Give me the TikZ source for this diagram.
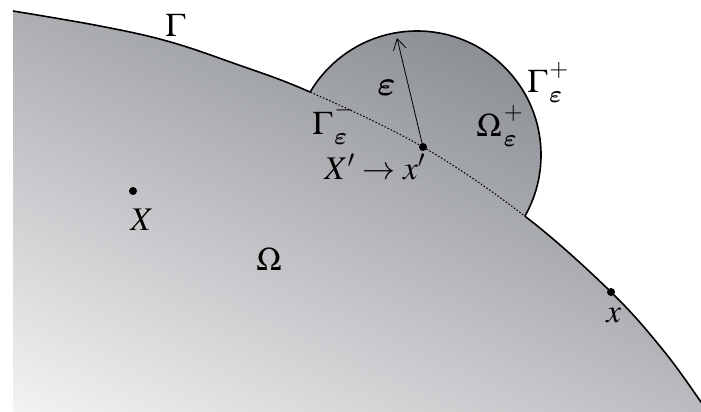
\documentclass[tikz,border=0pt]{standalone}
\usepackage{mathptmx}
\usetikzlibrary{arrows.meta}
\DeclareSymbolFont{cmlet}{OML}{cmm}{b}{it}
\DeclareMathSymbol{\cmeps}{\mathord}{cmlet}{"22}
\definecolor{dgray}{RGB}{101,105,112}
\newcommand{\scr}[3]{\kern1pt\rlap{\raisebox{#3}{$\scriptstyle #1$}}\raisebox{-5pt}{$\scriptstyle #2$}}
\tikzset{
  bnd/.style={line width=0.8pt},
  dotline/.style={line width=0.5pt, dash pattern=on 0.8pt off 0.9pt},
  dotnode/.style={circle, fill=black, inner sep=0pt, minimum size=4pt},
  lbl/.style={anchor=base west, inner sep=0pt, font=\fontsize{16.5}{20}\selectfont},
  radarrow/.style={line width=0.4pt, -{Straight Barb[length=5.5pt,width=6.5pt,line width=0.4pt]}},
  fillshade/.style={top color=dgray, bottom color=white, shading angle=-25}
}
\def\bndcurve{plot[smooth, tension=0.6] coordinates {(13,11) (100,26) (167,41) (233,63) (310,92) (423,147) (526,217) (611,292) (663,350) (701,402) (716,425)}}
\begin{document}
\begin{tikzpicture}[x=0.5pt, y=-0.5pt]
\useasboundingbox (0,0) rectangle (701,412);
% shaded domain
\begin{scope}
  \clip \bndcurve -- (716,440) -- (13,440) -- cycle;
  \shade[fillshade] (-37,-188) rectangle (751,600);
\end{scope}
% shaded bump
\begin{scope}
  \clip (417,155) circle (124);
  \shade[fillshade] (-37,-188) rectangle (751,600);
\end{scope}
% boundary outside the bump
\begin{scope}[even odd rule]
  \clip (-50,-50) rectangle (800,500) (417,155) circle (124);
  \draw[bnd] \bndcurve;
\end{scope}
% arc of the bump outside the domain
\begin{scope}[even odd rule]
  \clip (-50,-50) rectangle (800,500) \bndcurve -- (716,440) -- (13,440) -- cycle;
  \draw[bnd] (417,155) circle (124);
\end{scope}
% dotted boundary inside the bump
\begin{scope}
  \clip (417,155) circle (124);
  \draw[dotline] \bndcurve;
\end{scope}
% points
\node[dotnode] (X) at (133,191) {};
\node[dotnode] (xp) at (423,147) {};
\node[dotnode] (x) at (611,292) {};
\coordinate (tip) at (397,38);
\draw[radarrow] (xp.center) -- (tip);
% labels
\node[lbl] (G) at (165,36) {$\Gamma$};
\node[lbl] (Gp) at (527,92) {$\Gamma$\scr{+}{\cmeps}{8pt}};
\node[lbl] (Op) at (476,136) {$\Omega$\scr{+}{\cmeps}{8.5pt}};
\node[lbl] (eps) at (377,95) {$\cmeps$};
\node[lbl] (Gm) at (312,134) {$\Gamma$\scr{-}{\cmeps}{9pt}};
\node[lbl] (XX) at (324,179) {$X'\to x'$};
\node[lbl] (Xl) at (130,230) {$X$};
\node[lbl] (Om) at (256,270) {$\Omega$};
\node[lbl] (xl) at (606,322) {$x$};
\end{tikzpicture}
\end{document}
